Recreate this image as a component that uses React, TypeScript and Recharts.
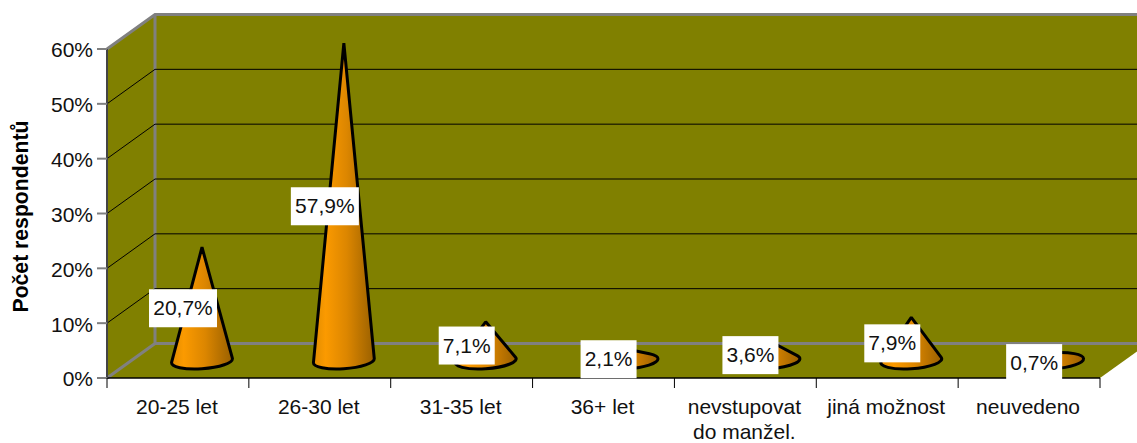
import { BarChart, Bar, XAxis, YAxis, CartesianGrid, LabelList } from "recharts";

const CATEGORIES = ["20-25 let", "26-30 let", "31-35 let", "36+ let", "nevstupovat|do manžel.", "jiná možnost", "neuvedeno"];
const VALUES = [20.7, 57.9, 7.1, 2.1, 3.6, 7.9, 0.7];
const Y_TICKS = [0, 10, 20, 30, 40, 50, 60];

const data = CATEGORIES.map((name, i) => ({ name, value: VALUES[i] }));

const FONT = "'Liberation Sans', Arial, sans-serif";
const WALL = "#808000";
const EDGE = "#808080";
const TEXT = "#111";
const LEFT = 107;
const TOP = 49;
const RIGHT = 1100;
const BOTTOM = 378;
const BAND = (RIGHT - LEFT) / CATEGORIES.length;
// the 3d box depth, in px
const DX = 48;
const DY = 34.5;

function Walls() {
  return (
    <g>
      <polygon
        points={`${LEFT},${TOP} ${LEFT + DX},${TOP - DY} ${RIGHT + DX},${TOP - DY} ${RIGHT + DX},${BOTTOM - DY} ${RIGHT},${BOTTOM} ${LEFT},${BOTTOM}`}
        fill={WALL}
      />
      <path
        d={`M${LEFT},${TOP} L${LEFT + DX},${TOP - DY} L${RIGHT + DX},${TOP - DY} M${LEFT + DX},${TOP - DY} L${LEFT + DX},${BOTTOM - DY} L${RIGHT + DX},${BOTTOM - DY} M${LEFT},${BOTTOM} L${LEFT + DX},${BOTTOM - DY}`}
        fill="none"
        stroke={EDGE}
        strokeWidth={3}
      />
    </g>
  );
}

// each gridline runs along the side wall and then the back wall.
// the walls go in with the first line so they end up under the grid
function GridLine({ x1, x2, y1, index }: any) {
  const isEdge = y1 <= TOP + 1 || y1 >= BOTTOM - 1;
  return (
    <g key={index}>
      {index === 0 && <Walls />}
      {!isEdge && (
        <path d={`M${x1},${y1} L${x1 + DX},${y1 - DY} L${x2 + DX},${y1 - DY}`} fill="none" stroke="#000" strokeWidth={1} />
      )}
    </g>
  );
}

function Cone({ x, y, width, height }: any) {
  const cx = x + width / 2 + DX / 2;
  const cy = y + height - DY / 2;
  const apexY = y - DY / 2;
  const rx = 30.5;
  const ry = 8;
  const phi = (-4 * Math.PI) / 180;
  const cos = Math.cos(phi);
  const sin = Math.sin(phi);
  const dy = apexY - cy;
  const px = (dy * sin) / rx;
  const py = (dy * cos) / ry;
  const d = Math.hypot(px, py);
  const stroke = { stroke: "#000", strokeWidth: 3, strokeLinejoin: "bevel" as const };
  if (d <= 1) {
    return <ellipse cx={cx} cy={cy} rx={rx} ry={ry} transform={`rotate(-4 ${cx} ${cy})`} fill="url(#coneFill)" {...stroke} />;
  }
  const a = Math.atan2(py, px);
  const b = Math.acos(1 / d);
  const at = (t: number) => {
    const lx = rx * Math.cos(t);
    const ly = ry * Math.sin(t);
    return `${cx + lx * cos - ly * sin},${cy + lx * sin + ly * cos}`;
  };
  return <path d={`M${cx},${apexY} L${at(a + b)} A${rx},${ry} -4 1 1 ${at(a - b)} Z`} fill="url(#coneFill)" {...stroke} />;
}

function ValueLabel({ x, y, width, height, value }: any) {
  const cx = x + width / 2 + 5;
  const cy = y + height / 2 - 13;
  const text = `${String(value).replace(".", ",")}%`;
  const w = value >= 10 ? 68 : 56;
  return (
    <g>
      <rect x={cx - w / 2} y={cy - 19} width={w} height={38} fill="#fff" />
      <text x={cx} y={cy + 7} textAnchor="middle" fontFamily={FONT} fontSize={21} fill={TEXT}>
        {text}
      </text>
    </g>
  );
}

// excel puts the ticks between the categories, not under them
function CategoryTick({ x, payload, index }: any) {
  const lines = String(payload.value).split("|");
  const edge = x - BAND / 2;
  return (
    <g>
      <path d={`M${edge},${BOTTOM} V${BOTTOM + 10}`} stroke="#000" strokeWidth={1} />
      {index === CATEGORIES.length - 1 && <path d={`M${edge + BAND},${BOTTOM} V${BOTTOM + 10}`} stroke="#000" strokeWidth={1} />}
      <text x={x - 1} y={BOTTOM + 36} textAnchor="middle" fontFamily={FONT} fontSize={21} fill={TEXT}>
        {lines.map((line, i) => (
          <tspan key={i} x={x - 1} dy={i === 0 ? 0 : 24.5}>
            {line}
          </tspan>
        ))}
      </text>
    </g>
  );
}

export default function App() {
  return (
    <div style={{ position: "absolute", left: 0, top: 0, width: 1137, height: 443, background: "#fff" }}>
      <BarChart
        width={1137}
        height={443}
        data={data}
        barCategoryGap={0}
        margin={{ top: TOP, right: 1137 - RIGHT, bottom: 0, left: 0 }}
        style={{ fontFamily: FONT }}
      >
        <defs>
          <linearGradient id="coneFill" x1="0" y1="0" x2="1" y2="0">
            <stop offset="0" stopColor="#e08c00" />
            <stop offset="0.2" stopColor="#fb9a00" />
            <stop offset="0.55" stopColor="#dc8600" />
            <stop offset="1" stopColor="#996000" />
          </linearGradient>
        </defs>
        <CartesianGrid vertical={false} horizontal={GridLine} />
        <XAxis
          dataKey="name"
          height={443 - BOTTOM}
          interval={0}
          tick={CategoryTick}
          tickLine={false}
          axisLine={{ stroke: "#000", strokeWidth: 1.5 }}
        />
        <YAxis
          width={LEFT}
          domain={[0, 60]}
          ticks={Y_TICKS}
          tickFormatter={(v: number) => `${v}%`}
          tick={{ fontFamily: FONT, fontSize: 21, fill: TEXT, dy: 1 }}
          tickSize={10}
          tickMargin={4}
          tickLine={{ stroke: EDGE, strokeWidth: 2 }}
          axisLine={{ stroke: "#444", strokeWidth: 2 }}
          label={{
            value: "Počet respondentů",
            angle: -90,
            position: "insideLeft",
            offset: 0,
            dx: 20,
            dy: 99,
            style: { fontFamily: FONT, fontSize: 21.2, fontWeight: "bold", fill: "#000" },
          }}
        />
        <Bar dataKey="value" shape={Cone} isAnimationActive={false}>
          <LabelList dataKey="value" content={ValueLabel} />
        </Bar>
      </BarChart>
    </div>
  );
}
